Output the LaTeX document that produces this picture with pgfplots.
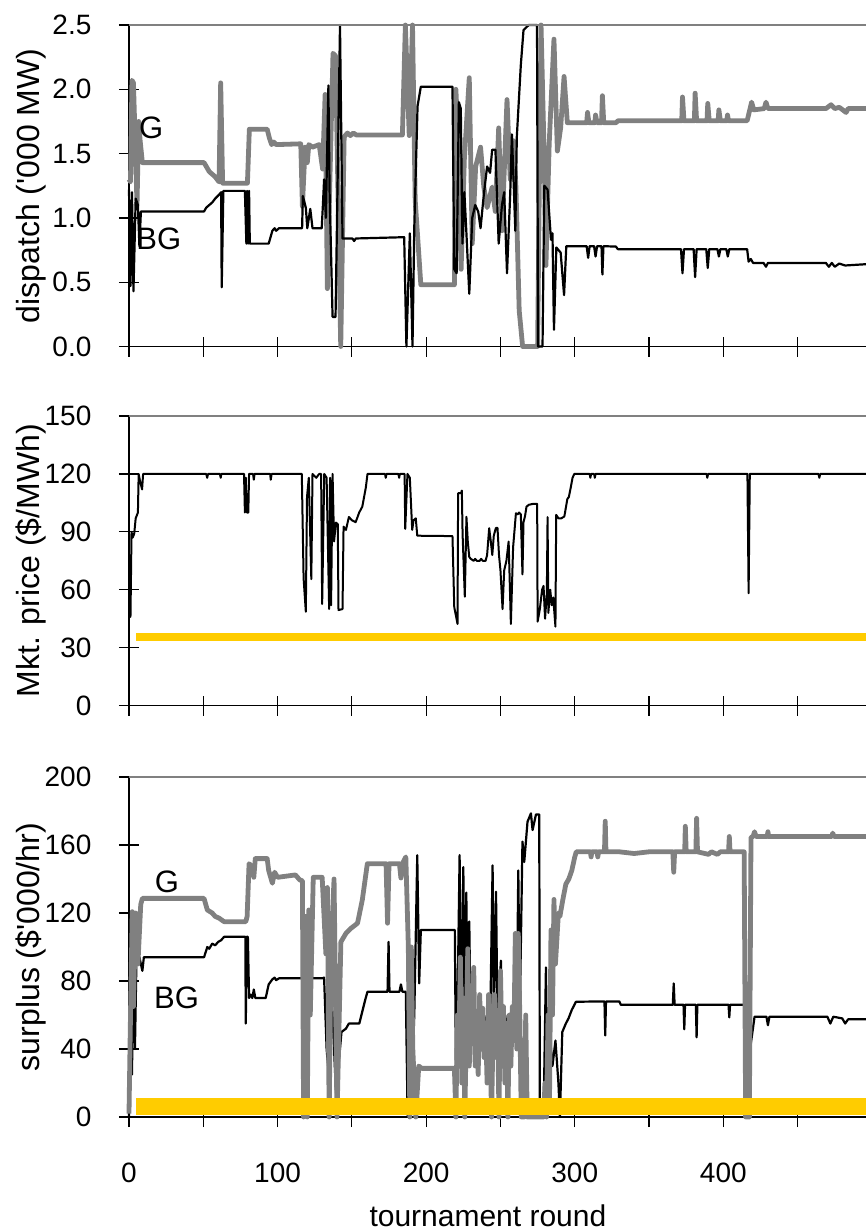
\documentclass[border=0pt]{standalone}
\usepackage{fontspec}
\setmainfont{Liberation Sans}[Ligatures=TeXOff]
\usepackage{pgfplots}
\pgfplotsset{compat=1.18}

\definecolor{gline}{HTML}{808080}
\definecolor{goldbar}{HTML}{FFCC00}

\pgfplotsset{
  panel/.style={
    scale only axis, width=368.5pt, xmin=0, xmax=496,
    axis x line*=bottom, axis y line*=left,
    axis line style={black, line width=0.8pt},
    xtick={0,50,...,450}, xticklabels={},
    tick align=center, major tick length=10pt,
    tick style={black, line width=0.6pt},
    every tick label/.append style={font=\fontsize{14}{16}\selectfont},
    /pgf/number format/assume math mode=true,
    every y tick label/.append style={anchor=east, inner sep=0pt, xshift=-13.6pt},
    ylabel style={at={(axis description cs:-0.133,0.5)}, anchor=center,
      font=\fontsize{16}{19}\selectfont},
    clip=false,
    extra description/.code={\draw[gline, line width=1pt] (0,1) -- (1,1);},
  },
  bg/.style={black, line width=1.1pt, line join=round, no marks},
  g/.style={gline, line width=2.4pt, line join=round, no marks},
}
\tikzset{lbl/.style={font=\fontsize{15.5}{18}\selectfont}}

\begin{document}
\begin{tikzpicture}
\useasboundingbox (0,0) rectangle (433pt,-615.5pt);

% --- dispatch ---
\begin{axis}[panel, at={(64.5pt,-12.5pt)}, anchor=north west, height=160.75pt,
  ymin=0, ymax=2.5, ytick={0,0.5,...,2.5},
  yticklabel style={/pgf/number format/.cd, fixed, fixed zerofill, precision=1},
  ylabel={dispatch ('000 MW)}]
\addplot[g] coordinates {
(0,1.3) (1,1.28) (2,2.07) (3,2.05) (5.4,1.1) (6.5,1.75) (7.5,1.6) (9,1.43) (50.5,1.43)
(52,1.4) (54,1.36) (56,1.34) (58,1.32) (60.6,1.28) (61.7,2.05) (63,1.27) (79.7,1.27)
(81,1.69) (93,1.69) (94.5,1.62) (96,1.57) (97.5,1.59) (99,1.57) (115.6,1.576) (116.7,1.09)
(118.5,1.55) (120,1.43) (121,1.57) (123.5,1.55) (128,1.57) (130.3,1.38) (132,1.96)
(133.5,0.45) (135,1.2) (137.3,2.28) (139,2.26) (142.5,0) (144.8,1.63) (147,1.66) (149,1.64)
(151,1.66) (153,1.645) (184,1.645) (186,2.5) (188.6,1.64) (190.8,2.5) (192.6,1.14)
(196.4,0.48) (219,0.48) (220,2.0) (221.3,1.66) (223.5,0.6) (225.7,1.46) (229,2.09)
(231,0.8) (233.3,1.4) (236.6,1.55) (238.8,1.24) (241,1.08) (244.4,1.24) (246.5,1.05)
(248.8,1.7) (251,0.9) (254.4,1.92) (256.6,1.3) (258.8,1.6) (260.4,1.24) (262.6,0.28)
(264.9,0) (275,0) (277.3,2.5) (279.5,1.44) (280.6,0.63) (282.8,1.58) (286,2.39)
(288.3,1.52) (290.5,1.7) (292.8,2.1) (295,1.74) (308,1.74) (308.6,1.82) (309.5,1.74)
(313.5,1.74) (314,1.8) (315,1.74) (318,1.74) (318.6,1.95) (319.5,1.74) (327.7,1.74)
(329,1.755) (372,1.755) (372.5,1.94) (373.5,1.755) (380.5,1.755) (381,1.97) (382,1.755)
(389,1.755) (389.5,1.89) (390.5,1.755) (396.5,1.755) (397,1.84) (398,1.755) (402.3,1.755)
(402.8,1.8) (403.5,1.755) (416,1.755) (418,1.85) (419,1.9) (420.5,1.84) (427.5,1.85)
(428.7,1.9) (430,1.85) (469,1.85) (472.5,1.88) (475,1.85) (478,1.86) (482.6,1.82)
(484,1.85) (496,1.85)
};
\addplot[bg] coordinates {
(0,1.22) (1,0.47) (2,1.2) (3,0.43) (4.5,1.15) (6,1.1) (7,0.78) (8,1.05) (50.5,1.05)
(52,1.08) (54,1.1) (56,1.12) (58,1.15) (60.6,1.18) (62,1.2) (62.4,0.46) (63.5,1.21)
(78,1.21) (79,0.8) (79.5,1.21) (80.2,0.8) (80.8,1.21) (81.3,0.8) (94,0.8) (96.5,0.9)
(98,0.92) (99,0.9) (101,0.92) (116.5,0.92) (117,1.17) (119,1.08) (120,0.92) (122,1.07)
(123.5,0.92) (129.7,0.92) (130.5,1.1) (131.3,1.3) (132.5,1.0) (134.2,2.03) (135,1.2)
(137,0.23) (139,0.23) (142,2.5) (143.7,0.84) (150.4,0.84) (151.5,0.82) (152.6,0.84)
(185.2,0.85) (186.7,0) (189,0.88) (190.8,0) (192,0.93) (194.2,1.87) (196.4,2.02)
(217.7,2.02) (218.9,0.6) (220.5,0.57) (222,1.9) (223.3,1.85) (224.4,0.8) (225.7,1.2)
(227,0.9) (229,0.41) (231,1.0) (233,1.1) (235,1.05) (236.6,0.92) (238.7,1.17) (241,1.4)
(243,1.35) (244.4,1.53) (246.6,1.53) (248.8,0.8) (251,1.1) (252.5,1.2) (254.4,0.57)
(256.6,1.2) (257.7,1.65) (260,0.9) (261,1.63) (263.7,2.19) (265.5,2.46) (269,2.5)
(274.6,2.5) (275.3,0) (278.3,0) (279.5,1.25) (281.7,1.22) (284,0.83) (285,0.88) (286,0.13)
(287.6,0.77) (290.5,0.73) (292.8,0.4) (294.3,0.78) (308,0.78) (309,0.69) (310,0.78)
(313,0.78) (314,0.7) (315,0.78) (318,0.78) (318.6,0.56) (319.3,0.78) (327.7,0.777)
(329,0.757) (371.5,0.757) (372.5,0.57) (373.5,0.757) (380,0.757) (381,0.54) (382,0.757)
(388.5,0.757) (389.5,0.61) (390.5,0.757) (396,0.757) (397,0.7) (398,0.757) (402,0.757)
(403,0.7) (404,0.757) (416,0.757) (417,0.66) (418.5,0.68) (420,0.65) (427,0.65)
(428.7,0.62) (430,0.65) (469,0.65) (471,0.62) (473,0.65) (475,0.62) (478,0.645) (482,0.63)
(496,0.64)
};
\node[lbl] at (axis cs:15,1.70) {G};
\node[lbl] at (axis cs:20,0.84) {BG};
\end{axis}

% --- market price ---
\begin{axis}[panel, at={(64.5pt,-208pt)}, anchor=north west, height=144.8pt,
  ymin=0, ymax=150, ytick={0,30,...,150},
  ylabel={Mkt. price (\$/MWh)}]
\addplot[bg, line width=1pt] coordinates {
(0,75) (1,46) (1.7,90) (2.5,87) (3.5,89) (4.5,97) (6,100) (6.5,120) (7.5,116) (8.8,112)
(9.5,120) (52,120) (52.6,118) (53.2,120) (61.2,120) (61.7,118) (62.2,120) (77.4,120)
(78,100) (78.6,118) (79.3,100) (80.3,100) (80.8,120) (83.5,120) (84,117) (84.5,120)
(95,120) (95.4,117) (96,120) (116.3,120) (117.5,66) (119,48.6) (119.8,108) (121,118)
(122.7,65.5) (123.5,120) (126,118) (128,120) (129.3,120) (130,52.6) (131.4,120) (133,118)
(134.7,50) (135.3,118) (136,52) (137,120) (138,85) (139.3,94.8) (140.5,94) (141,49.5)
(143.7,50) (144.4,92.7) (146,91) (148,97.7) (150,96) (152.5,95) (153.5,97) (154.9,100)
(157,103) (159.4,113) (160.5,120) (172.3,120) (172.8,118) (173.3,120) (181.3,120)
(181.8,118) (182.3,120) (185.5,120) (185.9,91.5) (187.4,120) (189,118) (190.6,91)
(191.5,96) (193,97) (194,88) (217.7,87.8) (218.9,51) (221.1,42.3) (221.5,110) (223.5,110)
(224,111.4) (224.5,89) (226,56.4) (227.1,97.8) (228,85) (229,77) (230,76) (232,75)
(233,76) (234,75) (236,75) (237,76) (238,75) (240,75) (241,78) (242.4,91.9) (243.5,85)
(244.5,78) (245.5,88) (246.9,92) (248,92) (249,78) (250,70) (251.4,50) (252.5,70) (254,75)
(255.5,85) (257,42.3) (258.5,82) (260.4,99.6) (261.5,99) (262.5,100) (263.7,99) (264.8,68)
(265.5,95) (266.5,98) (267.5,103) (269,104) (272,104.5) (274.7,104.5) (275,43.5)
(276.5,50) (278,60) (279,62) (280,45) (281.2,58) (281.7,97.6) (282.2,48) (283.5,60)
(284.5,52) (285.5,56) (287,40.9) (287.5,98.8) (289,97) (291,97) (293,98) (295,107)
(296,108) (297.5,113.8) (298.5,118) (299.7,120) (310,120) (310.5,118) (311,120) (313,120)
(313.5,118) (314,120) (388.7,120) (389.2,118) (389.7,120) (416.2,120) (417,58.2)
(417.8,120) (464,120) (464.6,118) (465.2,120) (496,120)
};
\addplot[goldbar, line width=4.2pt, no marks] coordinates {(5,35.4) (496,35.4)};
\end{axis}

% --- surplus ---
\begin{axis}[panel, at={(64.5pt,-388.5pt)}, anchor=north west, height=170pt,
  ymin=0, ymax=200, ytick={0,40,...,200},
  xticklabels={0,,100,,200,,300,,400,},
  every x tick label/.append style={anchor=north, inner sep=0pt, yshift=-18pt},
  ylabel={surplus (\$'000/hr)},
  xlabel={tournament round},
  xlabel style={at={(axis description cs:0.487,-0.29)}, anchor=center,
    font=\fontsize{15}{18}\selectfont}]
\addplot[bg] coordinates {
(0,0) (1,70) (2,25) (3,95) (4,40) (5,92) (7,94) (9,86) (10,94) (50.5,94) (52.7,100)
(54,99) (56,102) (58,101) (60,103) (62,104) (64,106) (78.3,106) (78.6,55) (79.2,106)
(80,106) (80.8,70) (82,72) (83,70) (84,75) (85,70) (92,70) (94,78) (96.5,81) (98,82)
(99,80.5) (101,81.6) (115.6,81.6) (117,82) (124.6,81.6) (130,81.6) (131.3,82) (133,40)
(135,20) (136,82) (137,60) (139.3,14) (141,30) (143,50) (146,52) (148,55) (155,55)
(157,62) (159,69) (160.5,73.7) (174,73.7) (174.7,103) (175.3,73.7) (182,73.7) (183,78)
(184,73.7) (186.3,73.7) (187.5,1) (188.5,60) (190,10) (192,60) (194,154) (195.3,78.6)
(196.4,110) (219.3,110) (220,30) (221,60) (222.5,154) (223.5,50) (225,147) (226,45)
(227,132) (228,60) (229,115) (230,50) (232,55) (234,45) (236,60) (237.8,41) (239,55)
(241,60) (243,50) (244.7,148) (245.5,60) (247,132.5) (248,55) (250.3,92) (251,55)
(253,50) (255,60) (257,45) (259,55) (261,65) (262,145) (263,60) (264.8,162) (266,150)
(268.2,173.7) (270.5,178.6) (271.6,168.8) (273.9,178) (276.1,178) (276.5,0) (279,0)
(280.6,88) (281.5,20) (283,50) (285,30) (287,45) (289,20) (290,0) (291.6,50) (294,55)
(295.8,58) (298,63) (300.8,67.8) (320,68) (320.5,48) (321,68) (330,68) (331,66) (366,66)
(366.6,78.6) (367.2,66) (373.2,66) (373.7,51.6) (374.2,66) (381.5,66) (382,46.9)
(382.5,66) (403.5,66) (404,58.6) (404.5,66) (414.5,66) (415.5,5) (418,40) (421,59)
(429,59) (430,54) (431,59) (470,59) (472,55) (474,59) (480,58) (482,55) (484,57.5)
(496,57.5)
};
\addplot[g] coordinates {
(0,2) (1.1,65) (2.2,120.8) (3,65) (4.5,120) (6,90) (7.9,125) (9,128.6) (50.5,128.6)
(52.7,121.8) (56,120) (58,118) (60.6,117) (64,114.9) (78.6,114.9) (79.5,118) (80.8,149)
(82,148) (84,141) (85,152) (93,152) (94,145) (96.5,137.5) (98,144) (100,141) (112,142.4)
(115,139.4) (116.7,139) (117.5,0) (119,118) (120,0) (121,121.8) (122,60) (124,141)
(130,141) (132.5,96) (133.5,135) (134.7,0) (136,100) (138,140) (140,0) (142.6,103)
(146,108) (149.4,111) (153.8,114) (157,127.6) (160.4,149) (173,149) (174,114) (175,149)
(182,149) (183,140.6) (184,149) (186.3,153) (188,100) (189,0) (190,100) (191,40) (193,0)
(195,30) (197,28.6) (219,28.6) (220,0) (221,60) (222,40) (223,94) (224,20) (225,70)
(226,0) (227,50) (228,99) (229,30) (230,60) (231,45) (232,88) (233,30) (234,55) (235,25)
(236,72) (237,40) (238,64) (239,35) (240,55) (241,20) (242,72) (243,45) (244,0) (245,50)
(246,72) (247,35) (248,60) (249,0) (250,86) (251,40) (252,65) (253,20) (254,55) (255,0)
(256,60) (257,30) (258,65) (259,45) (260,108) (261,40) (262,108) (263,60) (264,0) (266,0)
(267,60) (268,0) (279,0) (280,20) (281,0) (282,60) (283,10) (284,110) (285,60) (286,128)
(287,90) (289,120) (290,118) (292,128) (294,137) (296,140) (298,145) (300,153) (301,156)
(310.5,156) (311,153) (311.5,156) (315,156) (315.5,153) (316,156) (320,156) (320.5,174)
(321,156) (330,156) (340,155) (350,156) (366,156) (366.6,144) (367.2,156) (374,156)
(374.4,171) (375,156) (381.5,156) (382,175.7) (382.6,156) (390,154.5) (392,156)
(396,154.5) (398,156) (403.5,156) (404,165) (404.5,156) (414,156) (415,0) (417.5,0)
(418.6,164.5) (420,165) (421,167.8) (422,165) (429.5,165) (430,167.8) (430.5,165)
(473,165) (473.6,167) (474.5,165) (496,165)
};
\addplot[goldbar, line width=8.5pt, no marks] coordinates {(5,6.2) (496,6.2)};
\node[lbl] at (axis cs:25.6,138.4) {G};
\node[lbl] at (axis cs:32,70) {BG};
\end{axis}
\end{tikzpicture}
\end{document}
